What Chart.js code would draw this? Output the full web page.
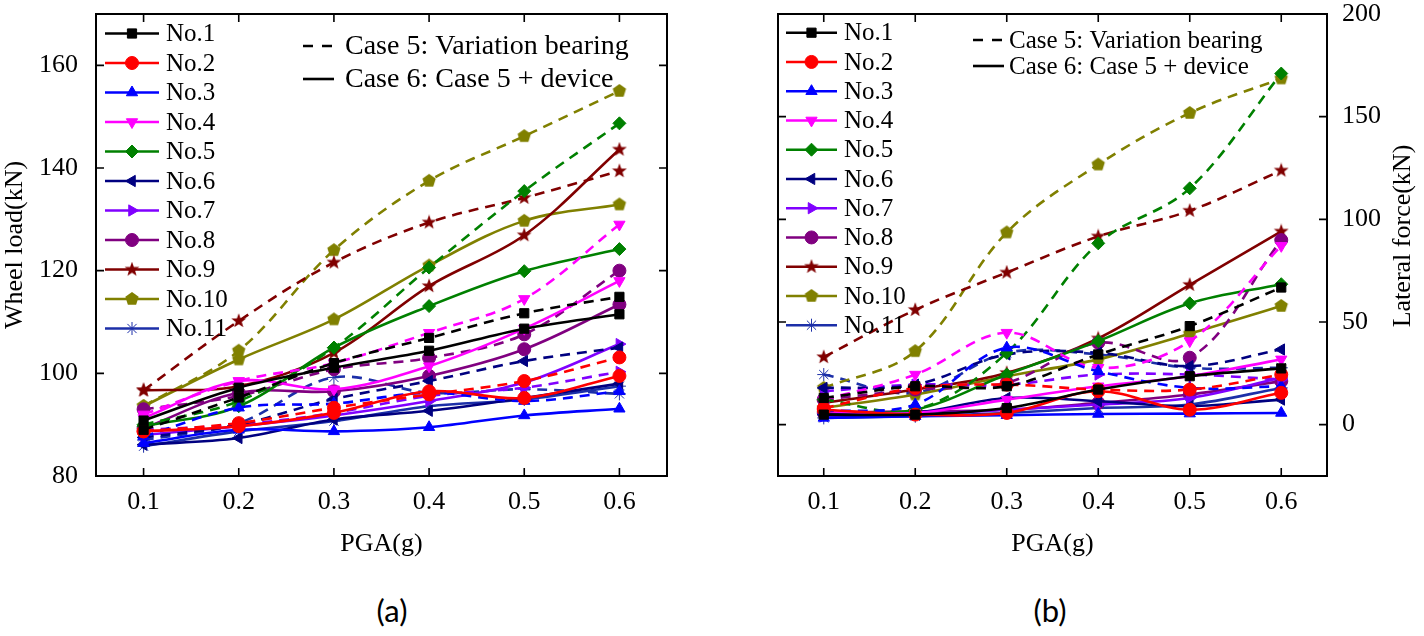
<!DOCTYPE html>
<html>
<head>
<meta charset="utf-8">
<script src="https://cdn.jsdelivr.net/npm/chart.js@4"></script>
<style>
  body { margin: 0; background: #fff; width: 1424px; height: 636px; position: relative; overflow: hidden; }
  .panel { position: absolute; top: 0; }
  .tag { position: absolute; top: 591px; font-family: Lato, "Open Sans", sans-serif; font-size: 31px; color: #000; transform: translateX(-50%); }
</style>
</head>
<body>
<div class="panel" style="left:0;width:700px;height:560px"><canvas id="chartA"></canvas></div>
<div class="panel" style="left:700px;width:724px;height:560px"><canvas id="chartB"></canvas></div>
<div class="tag" style="left:392px">(a)</div>
<div class="tag" style="left:1050px">(b)</div>
<script>
// данные
const pga = [0.1, 0.2, 0.3, 0.4, 0.5, 0.6];
const seriesNames = ['No.1', 'No.2', 'No.3', 'No.4', 'No.5', 'No.6', 'No.7', 'No.8', 'No.9', 'No.10', 'No.11'];

// (a) wheel load, kN — Case 5 (dashed) and Case 6 (solid)
const wheelCase5 = [
    [89.0, 95.3, 102.0, 106.9, 111.7, 114.9],
    [88.7, 90.3, 93.3, 95.9, 98.5, 103.1],
    [87.7, 93.3, 94.1, 96.2, 94.6, 96.5],
    [92.0, 98.5, 102.0, 107.9, 114.5, 129.0],
    [90.0, 94.6, 105.0, 120.6, 135.5, 148.7],
    [87.5, 90.0, 95.0, 98.5, 102.4, 105.0],
    [89.0, 90.0, 92.3, 95.6, 97.2, 100.3],
    [93.0, 95.6, 100.8, 103.0, 107.6, 120.0],
    [96.7, 110.2, 121.6, 129.4, 134.2, 139.4],
    [93.6, 104.4, 124.0, 137.5, 146.2, 155.0],
    [87.0, 90.3, 99.2, 96.2, 96.9, 96.0]
];
const wheelCase6 = [
    [90.8, 97.2, 101.1, 104.4, 108.7, 111.5],
    [88.7, 89.7, 92.3, 96.5, 95.2, 99.5],
    [86.4, 89.0, 88.7, 89.5, 91.8, 93.1],
    [91.3, 98.5, 96.9, 101.4, 108.7, 118.0],
    [89.7, 93.6, 105.0, 113.1, 119.9, 124.2],
    [86.1, 87.4, 91.0, 92.7, 95.2, 98.0],
    [88.0, 89.7, 91.8, 94.6, 98.2, 105.7],
    [89.3, 96.2, 96.5, 99.5, 104.7, 113.4],
    [96.7, 97.5, 104.0, 117.0, 126.9, 143.6],
    [93.6, 102.7, 110.5, 121.0, 129.7, 132.9],
    [85.8, 88.7, 90.7, 93.6, 94.9, 97.5]
];

// (b) lateral force, kN
const lateralCase5 = [
    [13.0, 18.7, 18.7, 34.2, 48.0, 66.8],
    [8.0, 17.9, 19.5, 17.1, 17.1, 24.4],
    [6.5, 9.8, 37.5, 26.0, 17.9, 18.7],
    [12.2, 24.4, 44.8, 27.7, 40.7, 87.1],
    [12.2, 7.3, 35.0, 88.3, 115.1, 171.0],
    [17.9, 19.5, 34.2, 35.0, 28.5, 36.6],
    [16.3, 19.5, 19.5, 24.4, 24.4, 22.0],
    [12.2, 17.1, 20.4, 39.9, 32.6, 89.9],
    [32.9, 55.9, 74.1, 91.7, 104.2, 123.8],
    [17.9, 35.8, 93.6, 126.7, 151.8, 168.6],
    [24.4, 15.5, 35.0, 34.2, 27.7, 27.7]
];
const lateralCase6 = [
    [4.9, 4.9, 8.1, 17.1, 23.6, 27.4],
    [7.3, 4.9, 5.7, 16.3, 7.3, 15.5],
    [3.3, 4.1, 4.6, 5.2, 5.4, 5.7],
    [6.5, 5.7, 12.2, 18.7, 23.6, 31.8],
    [6.5, 7.3, 24.4, 40.7, 59.1, 68.4],
    [4.9, 5.7, 13.0, 11.4, 9.0, 12.2],
    [4.1, 4.9, 7.3, 9.8, 13.0, 22.8],
    [5.7, 6.5, 7.3, 10.6, 14.7, 21.2],
    [10.6, 17.1, 25.2, 42.0, 68.1, 94.1],
    [8.1, 14.7, 23.6, 31.8, 44.3, 57.8],
    [3.3, 4.1, 5.7, 8.1, 9.8, 17.9]
];

const xTicks = [0.1, 0.2, 0.3, 0.4, 0.5, 0.6];
const yTicksA = [80, 100, 120, 140, 160];
const yTicksB = [0, 50, 100, 150, 200];
const caseLabels = ['Case 5: Variation bearing', 'Case 6: Case 5 + device'];

// стили серий
const colors = ['#000000', '#ff0000', '#0000ff', '#ff00ff', '#008000', '#000080',
                '#8000ff', '#800080', '#800000', '#808000', '#1c2fa8'];
const FONT = '"Liberation Serif", "Times New Roman", serif';

function shapeCanvas(color, kind) {
    const s = 16, c = document.createElement('canvas');
    c.width = s; c.height = s;
    const g = c.getContext('2d');
    g.fillStyle = color;
    g.beginPath();
    const n = kind === 'star' ? 10 : 5;
    for (let k = 0; k < n; k++) {
        const ang = -Math.PI / 2 + k * 2 * Math.PI / n;
        const r = kind === 'star' ? (k % 2 ? 3.2 : 7.8) : 7;
        g.lineTo(s / 2 + r * Math.cos(ang), s / 2 + r * Math.sin(ang));
    }
    g.closePath();
    g.fill();
    return c;
}

const markerStyles = [
    ['rect', 0], ['circle', 0], ['triangle', 0], ['triangle', 180], ['rectRot', 0],
    ['triangle', -90], ['triangle', 90], ['circle', 0], [shapeCanvas(colors[8], 'star'), 0],
    [shapeCanvas(colors[9], 'pent'), 0], ['star', 0]
];

function buildDatasets(case5, case6) {
    const sets = [];
    seriesNames.forEach((name, i) => {
        [[case5, [10, 7]], [case6, []]].forEach(([src, dash]) => {
            sets.push({
                label: name,
                data: pga.map((x, j) => ({ x: x, y: src[i][j] })),
                borderColor: colors[i],
                backgroundColor: colors[i],
                borderWidth: 2.6,
                borderDash: dash,
                tension: 0.35,
                pointStyle: markerStyles[i][0],
                rotation: markerStyles[i][1],
                pointRadius: 6.5,
                pointBorderWidth: 1,
                fill: false
            });
        });
    });
    return sets;
}

// рамка, внутренние риски и легенды
const framePlugin = {
    id: 'frame',
    afterDraw(chart, args, o) {
        const { ctx, chartArea: a, scales } = chart;
        const ys = scales.y;
        ctx.save();
        ctx.strokeStyle = '#000';
        ctx.lineWidth = 2;
        ctx.strokeRect(a.left, a.top, a.right - a.left, a.bottom - a.top);
        ctx.lineWidth = 1.6;
        ctx.beginPath();
        xTicks.forEach(v => {
            const px = scales.x.getPixelForValue(v);
            ctx.moveTo(px, a.bottom); ctx.lineTo(px, a.bottom - 8);
            ctx.moveTo(px, a.top); ctx.lineTo(px, a.top + 8);
        });
        o.yTicks.forEach(v => {
            const py = ys.getPixelForValue(v);
            ctx.moveTo(a.left, py); ctx.lineTo(a.left + 8, py);
            ctx.moveTo(a.right, py); ctx.lineTo(a.right - 8, py);
        });
        ctx.stroke();

        // легенда серий
        ctx.textBaseline = 'middle';
        ctx.textAlign = 'left';
        seriesNames.forEach((name, i) => {
            const y = o.legY + i * o.legRow;
            ctx.strokeStyle = colors[i];
            ctx.fillStyle = colors[i];
            ctx.lineWidth = 2.6;
            ctx.setLineDash([]);
            ctx.beginPath();
            ctx.moveTo(o.legX, y); ctx.lineTo(o.legX + o.legLen, y);
            ctx.stroke();
            ctx.lineWidth = 1;
            Chart.helpers.drawPoint(ctx, { pointStyle: markerStyles[i][0], rotation: markerStyles[i][1], radius: 6.5, borderWidth: 1 },
                o.legX + o.legLen / 2, y);
            ctx.fillStyle = '#000';
            ctx.font = o.legFont + 'px ' + FONT;
            ctx.fillText(name, o.legX + o.legLen + 7, y + 1);
        });

        // легенда случаев
        caseLabels.forEach((txt, k) => {
            const y = o.caseY + k * o.caseRow;
            ctx.strokeStyle = '#000';
            ctx.lineWidth = 2.6;
            ctx.setLineDash(k === 0 ? [10, 9] : []);
            ctx.beginPath();
            ctx.moveTo(o.caseX, y); ctx.lineTo(o.caseX + 31, y);
            ctx.stroke();
            ctx.setLineDash([]);
            ctx.fillStyle = '#000';
            ctx.font = o.caseFont + 'px ' + FONT;
            ctx.fillText(txt, o.caseX + o.caseGap, y + 1);
        });

        if (o.rightTitle) {
            ctx.translate(o.rightTitle.x, o.rightTitle.y);
            ctx.rotate(-Math.PI / 2);
            ctx.textAlign = 'center';
            ctx.font = '26px ' + FONT;
            ctx.fillText(o.rightTitle.text, 0, 0);
        }
        ctx.restore();
    }
};

Chart.defaults.font.family = FONT;
Chart.defaults.color = '#000';

function xScale() {
    return {
        type: 'linear', min: 0.05, max: 0.65,
        grid: { display: false }, border: { display: false },
        afterBuildTicks: s => { s.ticks = xTicks.map(v => ({ value: v })); },
        afterFit: s => { s.height = 84; s.paddingLeft = 0; s.paddingRight = 0; },
        ticks: { font: { size: 26 }, padding: 3, maxRotation: 0, callback: v => v.toFixed(1) },
        title: { display: true, text: 'PGA(g)', font: { size: 26 }, padding: { top: 0, bottom: 0 } }
    };
}

new Chart(document.getElementById('chartA'), {
    type: 'line',
    data: { datasets: buildDatasets(wheelCase5, wheelCase6) },
    options: {
        responsive: true, maintainAspectRatio: false, animation: false,
        layout: { padding: { left: 0, top: 14, right: 33, bottom: 0 } },
        plugins: {
            legend: { display: false }, tooltip: { enabled: false },
            frame: { yTicks: yTicksA, legX: 105, legY: 33.5, legRow: 29.5, legLen: 54, legFont: 25,
                     caseX: 303, caseY: 46, caseRow: 33, caseFont: 28, caseGap: 42 }
        },
        scales: {
            x: xScale(),
            y: {
                type: 'linear', min: 80, max: 170,
                grid: { display: false }, border: { display: false },
                afterBuildTicks: s => { s.ticks = yTicksA.map(v => ({ value: v })); },
                afterFit: s => { s.width = 96; s.paddingTop = 0; s.paddingBottom = 0; },
                ticks: { font: { size: 26 }, padding: 10 },
                title: { display: true, text: 'Wheel load(kN)', font: { size: 26 }, padding: { top: 0, bottom: 0 } }
            }
        }
    },
    plugins: [framePlugin]
});

new Chart(document.getElementById('chartB'), {
    type: 'line',
    data: { datasets: buildDatasets(lateralCase5, lateralCase6) },
    options: {
        responsive: true, maintainAspectRatio: false, animation: false,
        layout: { padding: { left: 78, top: 14, right: 0, bottom: 0 } },
        plugins: {
            legend: { display: false }, tooltip: { enabled: false },
            frame: { yTicks: yTicksB, legX: 86, legY: 32.7, legRow: 29.25, legLen: 51, legFont: 25,
                     caseX: 273, caseY: 40, caseRow: 26, caseFont: 25, caseGap: 36,
                     rightTitle: { text: 'Lateral force(kN)', x: 703, y: 236 } }
        },
        scales: {
            x: xScale(),
            y: {
                type: 'linear', position: 'right', min: -25, max: 200,
                grid: { display: false }, border: { display: false },
                afterBuildTicks: s => { s.ticks = yTicksB.map(v => ({ value: v })); },
                afterFit: s => { s.width = 97; s.paddingTop = 0; s.paddingBottom = 0; },
                ticks: { font: { size: 26 }, padding: 7 }
            }
        }
    },
    plugins: [framePlugin]
});
</script>
</body>
</html>
